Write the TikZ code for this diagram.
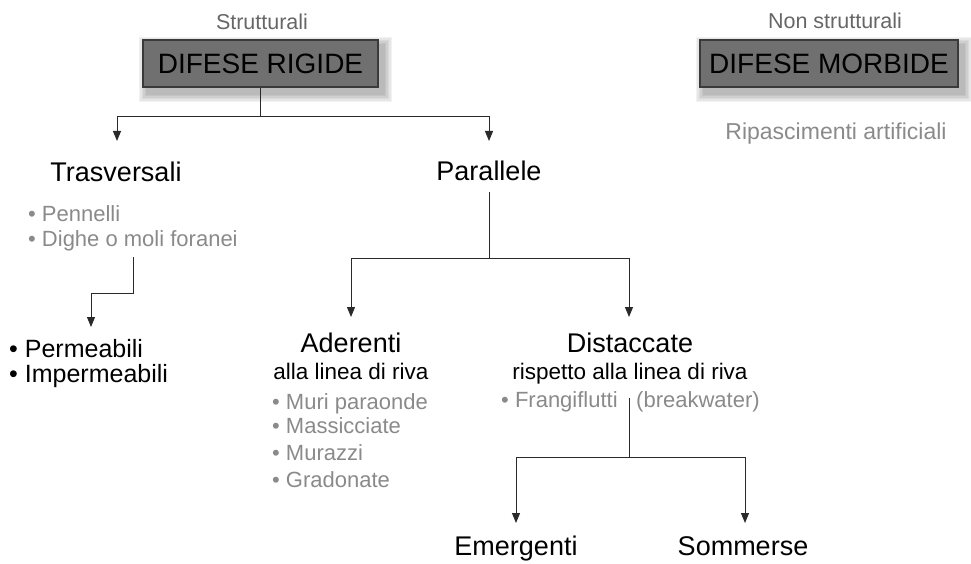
\documentclass[tikz,border=0pt]{standalone}
\usepackage{fontspec}
\setmainfont{Liberation Sans}
\usetikzlibrary{arrows.meta,backgrounds}
\definecolor{boxfill}{HTML}{707070}
\definecolor{boxline}{HTML}{3A3A3A}
\definecolor{itemgray}{HTML}{8A8A8A}
\definecolor{labgray}{HTML}{666666}
\definecolor{linec}{HTML}{2A2A2A}
\begin{document}
\begin{tikzpicture}[x=1pt,y=-1pt,
  head/.style={font=\fontsize{27}{32}\selectfont, inner sep=0pt, anchor=base},
  subhead/.style={font=\fontsize{22.5}{27}\selectfont, inner sep=0pt, anchor=base},
  item/.style={font=\fontsize{22}{26}\selectfont, text=itemgray, inner sep=0pt, anchor=base west},
  bitem/.style={font=\fontsize{25}{30}\selectfont, inner sep=0pt, anchor=base west},
  cat/.style={font=\fontsize{21.5}{26}\selectfont, text=labgray, inner sep=0pt, anchor=base},
  bigbox/.style={draw=boxline, fill=boxfill, line width=1.2pt, font=\fontsize{28}{33}\selectfont, inner sep=0pt, minimum height=47pt},
  conn/.style={draw=linec, line width=1pt},
  arr/.style={conn, -{Triangle[width=8pt,length=10pt]}},
]
\useasboundingbox (0,0) rectangle (971,564);

% top level
\node[cat] (strut) at (262,30) {Strutturali};
\node[bigbox, minimum width=235pt] (rig) at (260.5,63.5) {DIFESE RIGIDE};
\node[cat] (nstrut) at (835,29) {Non strutturali};
\node[bigbox, minimum width=258pt] (mor) at (829,63.5) {DIFESE MORBIDE};
\node[cat, text=itemgray, font=\fontsize{23}{28}\selectfont] (ripa) at (836,140) {Ripascimenti artificiali};

% trasversali
\node[head] (tras) at (116,182) {Trasversali};
\node[item] (penn) at (28,221) {• Pennelli};
\node[item] (dighe) at (28,246) {• Dighe o moli foranei};
\node[bitem] (perm) at (9,357) {• Permeabili};
\node[bitem] (imperm) at (9,382) {• Impermeabili};

% parallele
\node[head] (para) at (489,181) {Parallele};
\node[head] (ader) at (351,352) {Aderenti};
\node[subhead] (aderS) at (351,379) {alla linea di riva};
\node[item] (muri) at (272,409) {• Muri paraonde};
\node[item] (mass) at (272,433) {• Massicciate};
\node[item] (mura) at (272,460) {• Murazzi};
\node[item] (grad) at (272,487) {• Gradonate};

\node[head] (dist) at (630,352) {Distaccate};
\node[subhead] (distS) at (630,379) {rispetto alla linea di riva};
\node[item] (frang) at (501,407) {• Frangiflutti};
\node[item] (bw) at (636,407) {(breakwater)};
\node[head] (emer) at (516,555) {Emergenti};
\node[head] (somm) at (743,555) {Sommerse};

% junctions and arrow tips
\coordinate (j1) at (260.5,117);
\coordinate (tTip) at (117,141);
\coordinate (pTip) at (489,141);
\coordinate (dA) at (133,257);
\coordinate (j2) at (133,293);
\coordinate (permTip) at (91,327);
\coordinate (pA) at (489,192);
\coordinate (j3) at (489,258);
\coordinate (aTip) at (351,317);
\coordinate (dTip) at (629,317);
\coordinate (fA) at (629,398);
\coordinate (j4) at (629,457);
\coordinate (eTip) at (516,523);
\coordinate (sTip) at (745,523);

\draw[conn] (rig.south) -- (j1);
\draw[arr] (j1) -| (tTip);
\draw[arr] (j1) -| (pTip);
\draw[arr] (dA) -- (j2) -| (permTip);
\draw[conn] (pA) -- (j3);
\draw[arr] (j3) -| (aTip);
\draw[arr] (j3) -| (dTip);
\draw[conn] (fA) -- (j4);
\draw[arr] (j4) -| (eTip);
\draw[arr] (j4) -| (sTip);

% soft shadows
\begin{scope}[on background layer]
\foreach \b in {rig,mor}{
  \foreach \k in {1,...,6}{
    \fill[black,opacity=0.05]
      ([xshift={5pt-\k*1.4pt}, yshift={-6pt+\k*1.4pt}]\b.north west)
      rectangle
      ([xshift={5pt+\k*1.4pt}, yshift={-6pt-\k*1.4pt}]\b.south east);
  }
}
\end{scope}
\end{tikzpicture}
\end{document}
